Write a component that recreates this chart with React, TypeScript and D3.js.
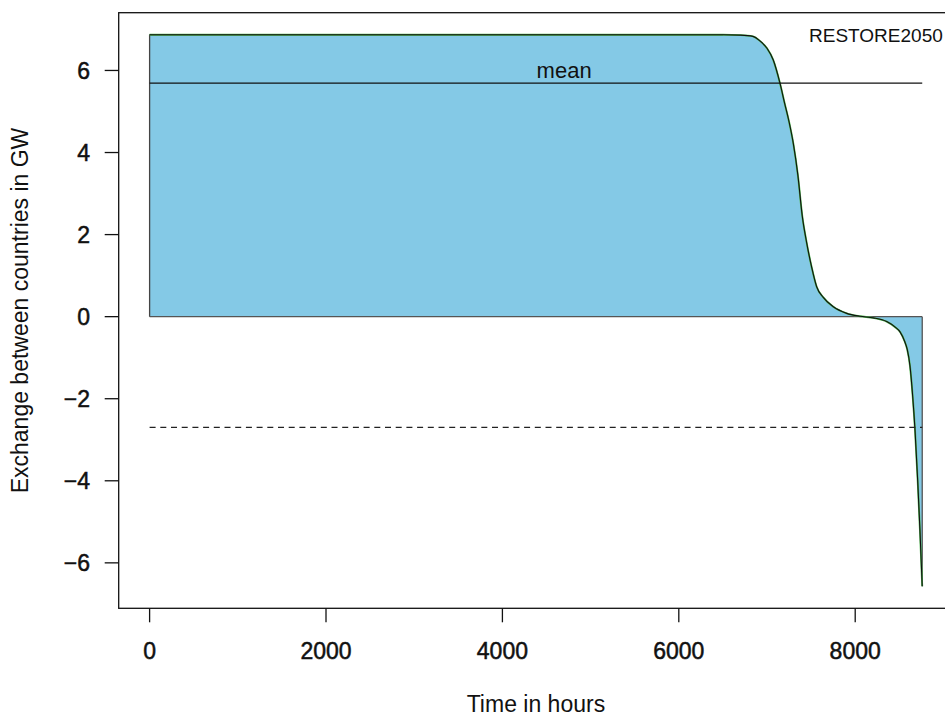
import React from "react";
import * as d3 from "d3";

const hours = [0, 1000, 2000, 3000, 4000, 5000, 6000, 6500, 6700, 6840, 6920, 7000, 7070, 7147, 7200, 7250, 7300, 7350, 7400, 7450, 7507, 7563, 7638, 7752, 7904, 8054, 8205, 8357, 8450, 8508, 8560, 8590, 8621, 8652, 8678, 8708, 8734, 8760];
const exchange = [6.87, 6.87, 6.87, 6.87, 6.87, 6.87, 6.87, 6.87, 6.86, 6.83, 6.72, 6.54, 6.26, 5.69, 5.2, 4.75, 4.2, 3.45, 2.45, 1.8, 1.2, 0.73, 0.47, 0.24, 0.08, 0.01, -0.03, -0.12, -0.25, -0.37, -0.6, -0.8, -1.2, -1.95, -2.76, -3.98, -5.2, -6.57];
const meanLevel = 5.69;
const lowerLevel = -2.7;
const xTicks = [0, 2000, 4000, 6000, 8000];
const yTicks = [-6, -4, -2, 0, 2, 4, 6];
const scenario = "RESTORE2050";
const xTitle = "Time in hours";
const yTitle = "Exchange between countries in GW";

export default function App() {
  const W = 945, H = 717;
  const left = 118.7, top = 12.7, bottom = 608.3;
  const xMax = d3.max(hours) as number;
  const xPad = xMax * 0.04;
  const [yMin, yMaxV] = d3.extent(exchange) as [number, number];
  const yPad = (yMaxV - yMin) * 0.04;
  const perX = 0.0882;
  const right = left + (xMax + 2 * xPad) * perX;
  const x = d3.scaleLinear().domain([-xPad, xMax + xPad]).range([left, right]);
  const y = d3.scaleLinear().domain([yMin - yPad, yMaxV + yPad]).range([bottom, top]);

  const pts: [number, number][] = hours.map((h, i) => [h, exchange[i]]);
  const line = d3.line<[number, number]>().x(d => x(d[0])).y(d => y(d[1])).curve(d3.curveMonotoneX);
  const curvePath = line(pts) as string;
  const area = d3.area<[number, number]>().x(d => x(d[0])).y0(y(0)).y1(d => y(d[1])).curve(d3.curveMonotoneX);
  const areaPath = area(pts) as string;
  const x0 = x(0), xN = x(xMax);
  const font = "'Liberation Sans', Arial, Helvetica, sans-serif";

  return (
    <svg width={W} height={H} style={{ position: "absolute", left: 0, top: 0, background: "#fff" }} fontFamily={font}>
      <path d={areaPath} fill="#84C9E6" stroke="none" />
      <line x1={x0} x2={x0} y1={y(0)} y2={y(exchange[0])} stroke="#444" strokeWidth={1.3} />
      <line x1={x0} x2={xN} y1={y(0)} y2={y(0)} stroke="#555" strokeWidth={1.3} />
      <line x1={xN} x2={xN} y1={y(0)} y2={y(exchange[exchange.length - 1])} stroke="#555" strokeWidth={1.3} />
      <line x1={x0} x2={x(hours[7])} y1={y(exchange[0])} y2={y(exchange[0])} stroke="#333" strokeWidth={1.3} />
      <path d={curvePath} fill="none" stroke="#4fb84f" strokeWidth={1.9} />
      <path d={curvePath} fill="none" stroke="#111" strokeWidth={1.1} />
      <line x1={x0} x2={xN} y1={y(meanLevel)} y2={y(meanLevel)} stroke="#111" strokeWidth={1.2} />
      <text x={x(4700)} y={y(meanLevel) - 5} textAnchor="middle" fontSize={22} fill="#111">mean</text>
      <line x1={x0} x2={xN} y1={y(lowerLevel)} y2={y(lowerLevel)} stroke="#222" strokeWidth={1.2} strokeDasharray="6,4.7" />
      <rect x={left} y={top} width={right - left} height={bottom - top} fill="none" stroke="#111" strokeWidth={1.3} />
      {yTicks.map(t => (
        <g key={"y" + t}>
          <line x1={left - 14} x2={left} y1={y(t)} y2={y(t)} stroke="#111" strokeWidth={1.3} />
          <text x={90} y={y(t)} dy="0.36em" textAnchor="end" fontSize={23} fill="#111" stroke="#111" strokeWidth={0.5}>{t < 0 ? "\u2212" + Math.abs(t) : String(t)}</text>
        </g>
      ))}
      {xTicks.map(t => (
        <g key={"x" + t}>
          <line x1={x(t)} x2={x(t)} y1={bottom} y2={bottom + 14} stroke="#111" strokeWidth={1.3} />
          <text x={x(t)} y={658.5} textAnchor="middle" fontSize={23} fill="#111" stroke="#111" strokeWidth={0.5}>{String(t)}</text>
        </g>
      ))}
      <text x={(left + right) / 2} y={712} textAnchor="middle" fontSize={23} fill="#111">{xTitle}</text>
      <text transform={`translate(28,${(top + bottom) / 2}) rotate(-90)`} textAnchor="middle" fontSize={23} fill="#111">{yTitle}</text>
      <text x={809} y={42} fontSize={19} fill="#111">{scenario}</text>
    </svg>
  );
}
